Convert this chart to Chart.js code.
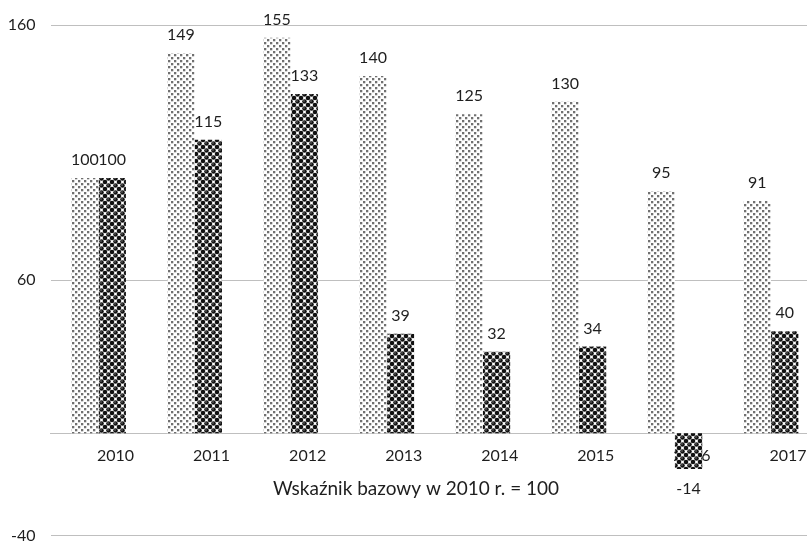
<!DOCTYPE html>
<html>
<head>
<meta charset="utf-8">
<script src="https://cdn.jsdelivr.net/npm/chart.js@4.4.1/dist/chart.umd.min.js"></script>
<style>
  html, body { margin: 0; padding: 0; background: #fff; overflow: hidden; }
  #wrap { width: 807px; height: 541px; overflow: hidden; }
</style>
</head>
<body>
<div id="wrap"><canvas id="chart" width="860" height="560"></canvas></div>
<script>
const years = ['2010', '2011', '2012', '2013', '2014', '2015', '2016', '2017'];
const seriesLight = [100, 149, 155, 140, 125, 130, 95, 91];
const seriesDark = [100, 115, 133, 39, 32, 34, -14, 40];
const yRange = [-40, 160];
const yStep = 100;
const axisTitle = 'Wskaźnik bazowy w 2010 r. = 100';

const FONT = "Lato, 'Open Sans', sans-serif";
const TEXT = '#1e1e1e';

// dotted grey fill
function lightPattern(ctx) {
  const c = document.createElement('canvas');
  c.width = 6; c.height = 6;
  const g = c.getContext('2d');
  g.fillStyle = '#fff';
  g.fillRect(0, 0, 6, 6);
  g.fillStyle = '#707070';
  g.fillRect(0, 0, 2.3, 2.3);
  g.fillRect(3, 3, 2.3, 2.3);
  return ctx.createPattern(c, 'repeat');
}

// black balls fill
function darkPattern(ctx) {
  const c = document.createElement('canvas');
  c.width = 7; c.height = 7;
  const g = c.getContext('2d');
  g.fillStyle = '#fff';
  g.fillRect(0, 0, 7, 7);
  const balls = [[3.5, 3.5], [0, 0], [7, 0], [0, 7], [7, 7]];
  g.fillStyle = '#111';
  balls.forEach(([x, y]) => {
    g.beginPath();
    g.arc(x, y, 2.3, 0, Math.PI * 2);
    g.fill();
  });
  g.fillStyle = 'rgba(255,255,255,0.8)';
  g.fillRect(2.5, 2.5, 1, 1);
  return ctx.createPattern(c, 'repeat');
}

const valueLabels = {
  id: 'valueLabels',
  afterDatasetsDraw(chart) {
    const ctx = chart.ctx;
    ctx.save();
    ctx.font = '16px ' + FONT;
    ctx.fillStyle = TEXT;
    ctx.textAlign = 'center';
    ctx.textBaseline = 'middle';
    chart.data.datasets.forEach((ds, i) => {
      chart.getDatasetMeta(i).data.forEach((bar, j) => {
        const v = ds.data[j];
        const y = v >= 0 ? bar.y - 18 : bar.y + 20;
        ctx.fillText(String(v), bar.x, y);
      });
    });
    ctx.restore();
  }
};

const bottomTitle = {
  id: 'bottomTitle',
  afterDraw(chart) {
    const ctx = chart.ctx;
    ctx.save();
    ctx.font = '19px ' + FONT;
    ctx.fillStyle = TEXT;
    ctx.textAlign = 'center';
    ctx.textBaseline = 'middle';
    ctx.fillText(axisTitle, 416, 489);
    ctx.restore();
  }
};

const ctx = document.getElementById('chart').getContext('2d');

new Chart(ctx, {
  type: 'bar',
  data: {
    labels: years,
    datasets: [
      { data: seriesLight, backgroundColor: lightPattern(ctx) },
      { data: seriesDark, backgroundColor: darkPattern(ctx) },
    ],
  },
  options: {
    responsive: false,
    animation: false,
    events: [],
    layout: {
      padding: { top: 25, right: 41, bottom: 24, left: 0 },
    },
    plugins: {
      legend: { display: false },
      tooltip: { enabled: false },
    },
    datasets: {
      bar: { categoryPercentage: 0.57, barPercentage: 1.0 },
    },
    scales: {
      x: {
        position: { y: 0 },
        grid: { display: false, drawTicks: false },
        border: { display: true, color: '#bfbfbf', width: 1 },
        ticks: {
          color: TEXT,
          font: { family: FONT, size: 16 },
          labelOffset: 17,
          padding: 13,
          maxRotation: 0,
        },
      },
      y: {
        min: yRange[0],
        max: yRange[1],
        afterFit(scale) { scale.width = 50.5; },
        grid: { color: '#bfbfbf', drawTicks: false },
        border: { display: false },
        ticks: {
          stepSize: yStep,
          color: TEXT,
          font: { family: FONT, size: 16 },
          padding: 15,
        },
      },
    },
  },
  plugins: [valueLabels, bottomTitle],
});
</script>
</body>
</html>
